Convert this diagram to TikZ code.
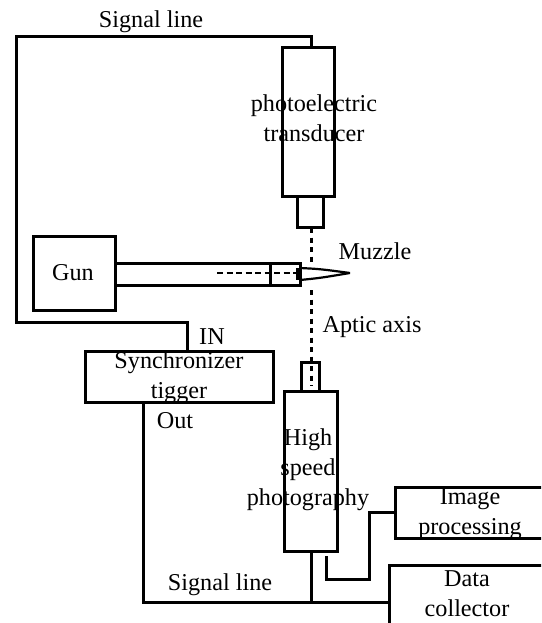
\documentclass[tikz,border=0pt]{standalone}
\usepackage{fontspec}
\setmainfont{Liberation Serif}
\usetikzlibrary{positioning}

\begin{document}
\begin{tikzpicture}[x=1pt, y=-1pt,
  devbox/.style={draw, line width=3pt, inner sep=0pt},
  wire/.style={line width=3pt, line join=miter},
  axisline/.style={line width=3pt, dash pattern=on 5pt off 4.5pt},
  txt/.style={font=\fontsize{24.2}{30}\selectfont, align=center, inner sep=0pt}]

  % =========== page size ===========
  \useasboundingbox (0,0) rectangle (541,623);
  \clip (0,0) rectangle (541,623);

  % =========== devices ===========
  \node[devbox, minimum width=52pt, minimum height=148pt] (transducer) at (308,122) {};
  \node[devbox, minimum width=26pt, minimum height=31pt] (lensA) at (310,211.5) {};
  \node[devbox, minimum width=82pt, minimum height=74pt] (gun) at (74,273) {};
  \node[devbox, minimum width=185pt, minimum height=22pt] (barrel) at (207.5,274) {};
  \node[devbox, minimum width=188pt, minimum height=51pt] (sync) at (179,376.5) {};
  \node[devbox, minimum width=53pt, minimum height=160pt] (camera) at (310.5,471) {};
  \node[devbox, minimum width=18pt, minimum height=29pt] (lensB) at (310,376.5) {};
  \node[devbox, minimum width=170pt, minimum height=51pt] (imgbox) at (480,512.5) {};
  \node[devbox, minimum width=180pt, minimum height=100pt] (databox) at (479,615) {};

  % =========== wiring ===========
  \coordinate (sigA) at (311,37);
  \coordinate (sigB) at (16,37);
  \coordinate (sigC) at (16,322);
  \coordinate (sigD) at (187,322);
  \draw[wire] (sigA |- transducer.north) -- (sigA) -- (sigB) -- (sigC) -- (sigD) -- (sigD |- sync.north);

  \coordinate (outA) at (143.5,602);
  \coordinate (camA) at (311,602);
  \draw[wire] (outA |- sync.south) -- (outA) -- (outA -| databox.west);
  \draw[wire] (camA |- camera.south) -- (camA);

  \coordinate (imgA) at (326,556);
  \coordinate (imgB) at (326,579);
  \coordinate (imgC) at (369,579);
  \draw[wire] (imgA) -- (imgB) -- (imgC) -- (imgC |- imgbox.west) -- (imgbox.west);

  % =========== optic axis ===========
  \coordinate (axisA) at (311,228);
  \coordinate (axisB) at (311,263);
  \coordinate (axisC) at (311,290);
  \coordinate (axisD) at (311,386);
  \draw[axisline] (axisA) -- (axisB);
  \draw[axisline] (axisC) -- (axisD);

  % =========== barrel details ===========
  \coordinate (tickA) at (270,263);
  \coordinate (dashA) at (217,273);
  \coordinate (dashB) at (296,273);
  \coordinate (tipA) at (300,268);
  \coordinate (tipB) at (350,273);
  \coordinate (tipC) at (300,280);
  \draw[wire] (tickA) -- (tickA |- barrel.south);
  \draw[line width=2.6pt, dash pattern=on 6pt off 3.5pt] (dashA) -- (dashB);
  \fill (296,268) rectangle (301,280);
  \draw[line width=2.2pt, line join=bevel] (tipA) .. controls (320,269) .. (tipB) .. controls (320,278) .. (tipC);

  % =========== labels ===========
  \node[txt] (lblSigTop) at (151,22) {Signal line};
  \node[txt] (lblTrans) at (314,118) {photoelectric\\transducer};
  \node[txt] (lblGun) at (73,273) {Gun};
  \node[txt] (lblMuzzle) at (375,251) {Muzzle};
  \node[txt] (lblAptic) at (372,327) {Aptic axis};
  \node[txt] (lblIn) at (212,337) {IN};
  \node[txt] (lblSync) at (179,378) {Synchronizer\\tigger};
  \node[txt] (lblOut) at (175,421) {Out};
  \node[txt] (lblCam) at (308,470) {High\\speed\\photography};
  \node[txt] (lblImg) at (470,514) {Image\\processing};
  \node[txt] (lblData) at (467,594) {Data\\collector};
  \node[txt] (lblSigBot) at (220,585) {Signal line};

\end{tikzpicture}
\end{document}
